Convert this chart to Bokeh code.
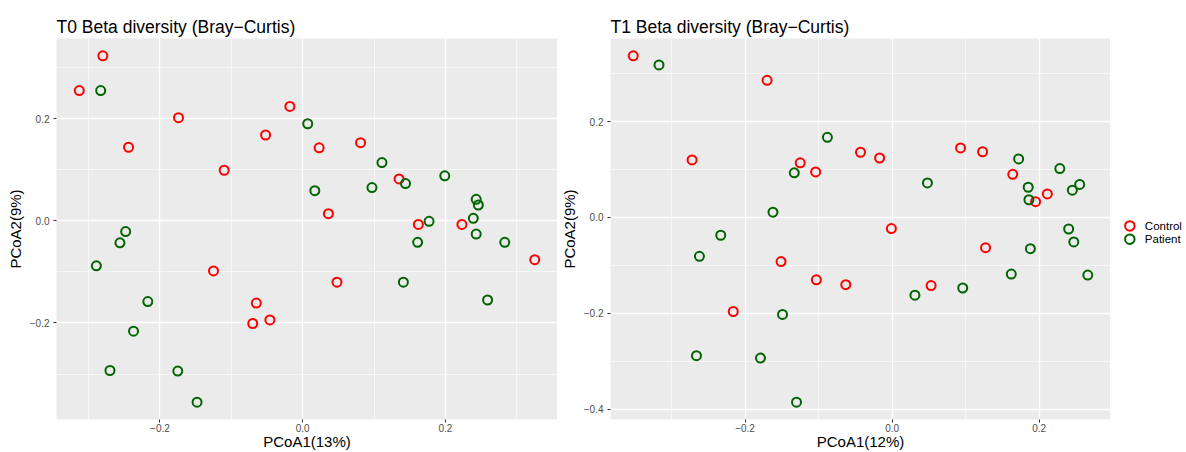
from bokeh.plotting import figure
from bokeh.models import Range1d, FixedTicker, CustomJSTickFormatter
from bokeh.core.properties import value
from bokeh.layouts import row
from bokeh.embed import file_html
from bokeh.resources import INLINE

# ---------------- data ----------------
t0_control_x = [-0.313, -0.280, -0.244, -0.174, -0.110, -0.052, -0.018, 0.023, 0.081, 0.135,
                0.036, 0.162, 0.223, 0.325, 0.048, -0.125, -0.065, -0.070, -0.046]
t0_control_y = [0.255, 0.323, 0.144, 0.202, 0.099, 0.168, 0.224, 0.143, 0.153, 0.082,
                0.014, -0.007, -0.007, -0.076, -0.120, -0.098, -0.161, -0.201, -0.194]
t0_patient_x = [-0.283, 0.007, 0.111, 0.144, 0.017, 0.097, 0.199, 0.243, 0.246, 0.239,
                0.177, 0.161, 0.243, 0.283, 0.141, 0.259, -0.248, -0.256, -0.289, -0.217,
                -0.237, -0.270, -0.175, -0.148]
t0_patient_y = [0.255, 0.190, 0.114, 0.073, 0.059, 0.065, 0.088, 0.042, 0.031, 0.005,
                -0.001, -0.042, -0.026, -0.042, -0.120, -0.155, -0.021, -0.043, -0.088, -0.158,
                -0.216, -0.293, -0.294, -0.355]

t1_control_x = [-0.352, -0.170, -0.272, -0.125, -0.104, -0.043, -0.017, 0.093, 0.123, 0.164,
                0.195, 0.211, -0.001, 0.127, 0.053, -0.063, -0.103, -0.151, -0.216]
t1_control_y = [0.337, 0.286, 0.120, 0.114, 0.095, 0.136, 0.124, 0.145, 0.137, 0.090,
                0.033, 0.049, -0.023, -0.063, -0.142, -0.140, -0.130, -0.092, -0.196]
t1_patient_x = [-0.317, -0.088, -0.133, -0.162, 0.172, 0.228, 0.185, 0.245, 0.255, 0.186,
                0.048, 0.188, 0.240, 0.247, 0.162, 0.266, 0.096, 0.031, -0.233, -0.262,
                -0.149, -0.266, -0.179, -0.130]
t1_patient_y = [0.318, 0.167, 0.093, 0.011, 0.122, 0.102, 0.063, 0.057, 0.069, 0.037,
                0.072, -0.065, -0.024, -0.051, -0.118, -0.120, -0.147, -0.162, -0.037, -0.081,
                -0.202, -0.288, -0.293, -0.385]

groups = ["Control", "Patient"]
group_colors = ["#FF0000", "#006400"]

t0_x_ticks = [-0.2, 0.0, 0.2]
t0_x_minor = [-0.3, -0.1, 0.1, 0.3]
t0_y_ticks = [-0.2, 0.0, 0.2]
t0_y_minor = [-0.3, -0.1, 0.1, 0.3]
t1_x_ticks = [-0.2, 0.0, 0.2]
t1_x_minor = [-0.3, -0.1, 0.1]
t1_y_ticks = [-0.4, -0.2, 0.0, 0.2]
t1_y_minor = [-0.3, -0.1, 0.1, 0.3]

titles = ["T0 Beta diversity (Bray\u2212Curtis)", "T1 Beta diversity (Bray\u2212Curtis)"]
x_labels = ["PCoA1(13%)", "PCoA1(12%)"]
y_labels = ["PCoA2(9%)", "PCoA2(9%)"]

FONT = "Liberation Sans"


def padded(vals, frac=0.05):
    lo, hi = min(vals), max(vals)
    span = hi - lo
    return Range1d(lo - frac * span, hi + frac * span)


def make_panel(cx, cy, px, py, xt, xm, yt, ym, title, xl, yl, width, left_border):
    p = figure(width=width, height=452,
               min_border_left=left_border, min_border_right=0,
               min_border_top=38, min_border_bottom=29,
               x_range=padded(cx + px), y_range=padded(cy + py),
               output_backend="svg", toolbar_location=None)
    p.background_fill_color = "#EBEBEB"
    p.border_fill_color = "white"
    p.outline_line_color = None

    p.title.text = title
    p.title.text_font = FONT
    p.title.text_font_size = "17.5px"
    p.title.text_font_style = "normal"
    p.title.text_color = "black"
    p.title.align = "left"
    p.title.standoff = 4

    fmt = CustomJSTickFormatter(code="return tick.toFixed(1).replace('-', '\u2212');")
    p.xaxis.ticker = FixedTicker(ticks=xt, minor_ticks=xm)
    p.yaxis.ticker = FixedTicker(ticks=yt, minor_ticks=ym)
    for ax, lab in ((p.xaxis, xl), (p.yaxis, yl)):
        ax.formatter = fmt
        ax.axis_label = lab
        ax.axis_label_text_font = FONT
        ax.axis_label_text_font_size = "15px"
        ax.axis_label_text_font_style = "normal"
        ax.axis_label_text_color = "black"
        ax.major_label_text_font = FONT
        ax.major_label_text_font_size = "10px"
        ax.major_label_text_color = "#4D4D4D"
        ax.axis_line_color = None
        ax.major_tick_in = 0
        ax.major_tick_out = 3
        ax.major_tick_line_color = "#333333"
        ax.minor_tick_line_color = None
    p.xaxis.major_label_standoff = 0
    p.xaxis.axis_label_standoff = -2
    p.yaxis.major_label_standoff = 3
    p.yaxis.axis_label_standoff = 3

    for g in (p.xgrid, p.ygrid):
        g.grid_line_color = "white"
        g.grid_line_width = 1.3
        g.minor_grid_line_color = "white"
        g.minor_grid_line_width = 0.6

    p.scatter(cx, cy, marker="circle", size=9, fill_color=None,
              line_color=group_colors[0], line_width=2)
    p.scatter(px, py, marker="circle", size=9, fill_color=None,
              line_color=group_colors[1], line_width=2)
    return p


p1 = make_panel(t0_control_x, t0_control_y, t0_patient_x, t0_patient_y,
                t0_x_ticks, t0_x_minor, t0_y_ticks, t0_y_minor,
                titles[0], x_labels[0], y_labels[0], 557, 56)
p2 = make_panel(t1_control_x, t1_control_y, t1_patient_x, t1_patient_y,
                t1_x_ticks, t1_x_minor, t1_y_ticks, t1_y_minor,
                titles[1], x_labels[1], y_labels[1], 553, 53)

# ---------------- legend (keys + labels) ----------------
leg = figure(width=76, height=452, min_border_left=0, min_border_right=0,
             min_border_top=38, min_border_bottom=29,
             x_range=Range1d(-1, 2.93), y_range=Range1d(14.6, -14.13),
             x_axis_location=None, y_axis_location=None,
             output_backend="svg", toolbar_location=None)
leg.grid.visible = False
leg.outline_line_color = None
leg.background_fill_color = "white"
leg.border_fill_color = "white"
key_x = [0] * len(groups)
key_y = list(range(len(groups)))
leg.scatter(key_x, key_y, marker="circle", size=9.5, fill_color=None,
            line_color=group_colors, line_width=2)
leg.text(key_x, key_y, text=groups, x_offset=15,
         text_font=value(FONT), text_font_size="11.5px",
         text_baseline="middle", text_align="left", text_color="black")

layout = row(p1, p2, leg)
open("out.html", "w").write(file_html(layout, INLINE))
